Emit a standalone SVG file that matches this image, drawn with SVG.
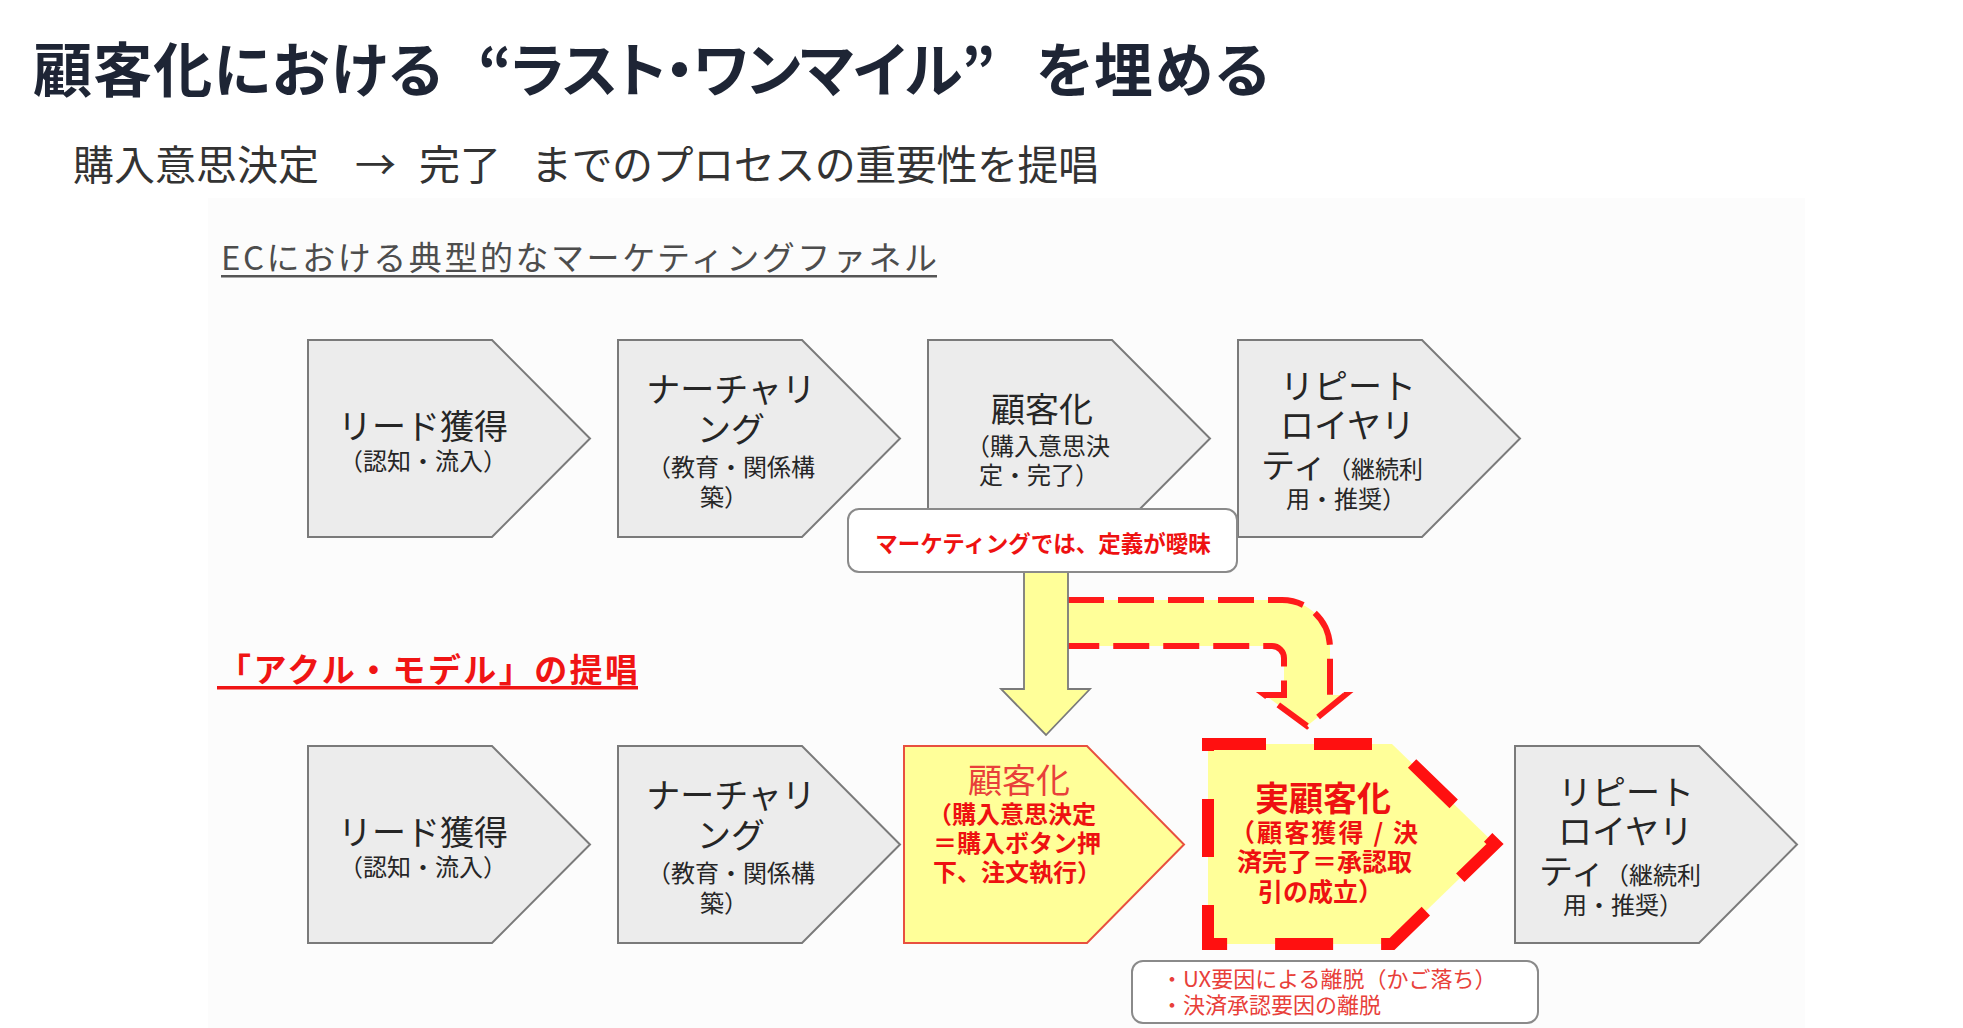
<svg xmlns="http://www.w3.org/2000/svg" width="1963" height="1028" viewBox="0 0 1963 1028">
<style>
text{font-family:"Noto Sans CJK JP","Noto Sans",sans-serif;}
.title{font-size:59px;font-weight:700;fill:#1e2535;font-feature-settings:"palt";}
.sub{font-size:41px;fill:#333333;}
.ech{font-size:33px;fill:#4d4d4d;}
.redh{font-size:33px;font-weight:700;fill:#f01414;}
.gp{fill:#ececec;stroke:#7a7a7a;stroke-width:2;stroke-linejoin:miter;}
.big{font-size:34px;fill:#262626;}
.sm{font-size:24px;fill:#262626;}
.mid{text-anchor:middle;}
.rb{font-weight:700;fill:#ee1111;}
.box{fill:#ffffff;stroke:#8a8a8a;stroke-width:2;}
.note{font-size:22px;fill:#e8403a;}
</style>
<rect x="208" y="198" width="1597" height="830" fill="#fcfcfc"/>

<g id="heading">
<text class="title" x="33" y="92"><tspan x="33" textLength="424" lengthAdjust="spacing">顧客化における </tspan><tspan x="478" textLength="517" lengthAdjust="spacing">“ラスト・ワンマイル”</tspan><tspan x="1036" textLength="233" lengthAdjust="spacing">を埋める</tspan></text>
<text class="sub" x="73" y="180"><tspan x="73">購入意思決定 </tspan><tspan x="355">→ </tspan><tspan x="419">完了 </tspan><tspan x="531" textLength="568" lengthAdjust="spacing">までのプロセスの重要性を提唱</tspan></text>
</g>

<g id="ec-label">
<text class="ech" x="221" y="270" textLength="716" lengthAdjust="spacing">ECにおける典型的なマーケティングファネル</text>
<rect x="221" y="275" width="716" height="2.5" fill="#555555"/>
</g>

<g id="akuru-label">
<text class="redh" x="218" y="682" textLength="420" lengthAdjust="spacing">「アクル・モデル」の提唱</text>
<rect x="217" y="686" width="421" height="3.5" fill="#f01414"/>
</g>

<g id="connectors">
<path d="M1068,600 H1282 A48,48 0 0 1 1330,648 V695 H1345 L1307,726 L1265,695 H1284 V658 A12,12 0 0 0 1272,646 H1068 Z" fill="#ffff99"/>
<path d="M1068,600 H1282 A48,48 0 0 1 1330,648 V695 H1345 L1307,726 L1265,695 H1284 V658 A12,12 0 0 0 1272,646 H1068" fill="none" stroke="#ff1a1a" stroke-width="6" stroke-dasharray="36 14"/>
<polygon points="1024,560 1068,560 1068,689 1090,689 1046,735 1001,689 1024,689" fill="#ffff99" stroke="#7a7a7a" stroke-width="1.8"/>
</g>

<g id="t1">
<path class="gp" d="M308,340 H492 L590,438.5 L492,537 H308 Z"/>
<text class="big mid" x="423" y="439">リード獲得</text>
<text class="sm mid" x="423" y="470">（認知・流入）</text>
</g>
<g id="t2">
<path class="gp" d="M618,340 H802 L900,438.5 L802,537 H618 Z"/>
<text class="big mid" x="731" y="402">ナーチャリ</text>
<text class="big mid" x="731" y="442">ング</text>
<text class="sm mid" x="731" y="476">（教育・関係構</text>
<text class="sm mid" x="724" y="506">築）</text>
</g>
<g id="t3">
<path class="gp" d="M928,340 H1112 L1210,438.5 L1112,537 H928 Z"/>
<text class="big mid" x="1042" y="422">顧客化</text>
<text class="sm" x="966" y="455">（購入意思決</text>
<text class="sm" x="979" y="484">定・完了）</text>
</g>
<g id="t4">
<path class="gp" d="M1238,340 H1422 L1520,438.5 L1422,537 H1238 Z"/>
<text class="big" x="1280" y="399">リピート</text>
<text class="big" x="1280" y="438">ロイヤリ</text>
<text class="big" x="1261" y="478">ティ<tspan class="sm">（継続利</tspan></text>
<text class="sm" x="1286" y="508">用・推奨）</text>
</g>

<g id="callout">
<rect class="box" x="848" y="509" width="389" height="63" rx="11"/>
<text class="rb mid" x="1043" y="552" style="font-size:22.5px">マーケティングでは、定義が曖昧</text>
</g>

<g id="b1">
<path class="gp" d="M308,746 H492 L590,844.5 L492,943 H308 Z"/>
<text class="big mid" x="423" y="845">リード獲得</text>
<text class="sm mid" x="423" y="876">（認知・流入）</text>
</g>
<g id="b2">
<path class="gp" d="M618,746 H802 L900,844.5 L802,943 H618 Z"/>
<text class="big mid" x="731" y="808">ナーチャリ</text>
<text class="big mid" x="731" y="848">ング</text>
<text class="sm mid" x="731" y="882">（教育・関係構</text>
<text class="sm mid" x="724" y="912">築）</text>
</g>
<g id="b3">
<path d="M904,746 H1087 L1184,844.5 L1087,943 H904 Z" fill="#ffff99" stroke="#e8503f" stroke-width="2"/>
<text class="mid" x="1019" y="793" style="font-size:34px;fill:#e8403a">顧客化</text>
<text class="rb" x="928" y="823" style="font-size:24px">（購入意思決定</text>
<text class="rb" x="933" y="852" style="font-size:24px">＝購入ボタン押</text>
<text class="rb" x="933" y="881" style="font-size:24px">下、注文執行）</text>
</g>
<g id="b4">
<path d="M1208,744 H1392 L1495,844 L1392,944 H1208 Z" fill="#ffff99"/>
<path d="M1208,744 H1392 L1495,844 L1392,944 H1208 Z" fill="none" stroke="#ff1010" stroke-width="12" stroke-dasharray="58 48"/>
<text class="rb mid" x="1323" y="811" style="font-size:34px">実顧客化</text>
<text class="rb" x="1230" y="842" style="font-size:25px" textLength="188" lengthAdjust="spacing">（顧客獲得 / 決</text>
<text class="rb" x="1237" y="871" style="font-size:25px">済完了＝承認取</text>
<text class="rb" x="1258" y="901" style="font-size:25px">引の成立）</text>
</g>
<g id="b5">
<path class="gp" d="M1515,746 H1699 L1797,844.5 L1699,943 H1515 Z"/>
<text class="big" x="1558" y="805">リピート</text>
<text class="big" x="1558" y="844">ロイヤリ</text>
<text class="big" x="1539" y="884">ティ<tspan class="sm">（継続利</tspan></text>
<text class="sm" x="1563" y="914">用・推奨）</text>
</g>

<g id="note">
<rect class="box" x="1132" y="961" width="406" height="62" rx="11"/>
<text class="note" x="1161" y="987">・UX要因による離脱（かご落ち）</text>
<text class="note" x="1161" y="1013">・決済承認要因の離脱</text>
</g>
</svg>
